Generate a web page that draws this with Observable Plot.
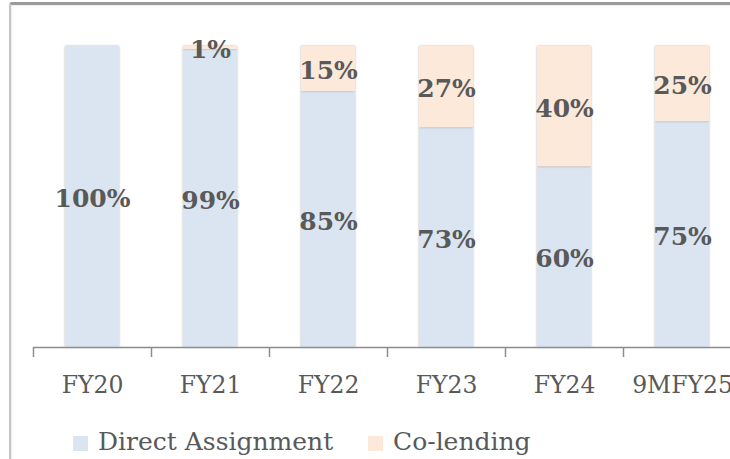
<!DOCTYPE html>
<html>
<head>
<meta charset="utf-8">
<script src="https://cdn.jsdelivr.net/npm/d3@7"></script>
<script src="https://cdn.jsdelivr.net/npm/@observablehq/plot@0.6"></script>
<style>
  html, body { margin: 0; padding: 0; background: #fff; width: 730px; height: 459px; overflow: hidden; }
  #frame { position: absolute; left: 9px; top: 2px; width: 800px; height: 520px;
    border-top: 3px solid #9a9a9a; border-left: 2px solid #c4c4c4; border-top-left-radius: 3px;
    box-shadow: inset 1px 1px 2px rgba(0,0,0,0.08); }
  #chart { position: absolute; left: 0; top: 0; }
  #legend { position: absolute; top: 427px; left: 0; width: 730px; font-family: "DejaVu Serif", serif;
    font-size: 25px; color: #595959; }
  .item { position: absolute; top: 0; display: flex; align-items: center; white-space: nowrap; }
  .sw { width: 15px; height: 15px; margin-right: 10px; margin-top: 3px; }
  .bars rect { filter: drop-shadow(0px 0px 1.2px rgba(0,0,0,0.28)); }
</style>
</head>
<body>
<div id="frame"></div>
<div id="chart"></div>
<div id="legend"></div>
<script>
const categories = ["FY20", "FY21", "FY22", "FY23", "FY24", "9MFY25"];
const directAssignment = [100, 99, 85, 73, 60, 75];
const coLending = [0, 1, 15, 27, 40, 25];
const seriesNames = ["Direct Assignment", "Co-lending"];
const seriesColors = ["#dbe5f1", "#fde9d9"];

const rows = [];
categories.forEach((c, i) => {
  rows.push({cat: c, series: seriesNames[0], value: directAssignment[i]});
  rows.push({cat: c, series: seriesNames[1], value: coLending[i]});
});

const step = (741 - 33) / 6;

const plot = Plot.plot({
  width: 730,
  height: 410,
  marginLeft: 33,
  marginRight: 0,
  marginTop: 46,
  marginBottom: 63,
  style: {fontFamily: "DejaVu Serif, serif", background: "transparent", overflow: "visible"},
  x: {domain: categories, range: [33, 741], paddingInner: 0.54, paddingOuter: 0.27, align: 0.5, label: null},
  y: {domain: [0, 100], axis: null},
  color: {domain: seriesNames, range: seriesColors},
  marks: [
    Plot.barY(rows, Plot.stackY({x: "cat", y: "value", fill: "series", z: "series", order: seriesNames, className: "bars"})),
    Plot.ruleY([0], {stroke: "#8c8c8c", strokeWidth: 1.5}),
    Plot.ruleX(categories, {x: d => d, y1: 0, y2: 0, dx: -step / 2, insetBottom: -10, stroke: "#8c8c8c", strokeWidth: 1.5}),
    Plot.ruleX(categories.slice(-1), {x: d => d, y1: 0, y2: 0, dx: step / 2, insetBottom: -10, stroke: "#8c8c8c", strokeWidth: 1.5}),
    Plot.text(rows.filter(d => d.value > 0), Plot.stackY({x: "cat", y: "value", z: "series", order: seriesNames,
      text: d => d.value + "%", fill: "#595959", fontWeight: "bold", fontSize: 25, dy: 2})),
    Plot.axisX({tickSize: 0, tickPadding: 29, fontSize: 23.5, color: "#595959", label: null})
  ]
});
document.getElementById("chart").appendChild(plot);

const legend = document.getElementById("legend");
const legendLefts = [73, 368];
seriesNames.forEach((s, i) => {
  const item = document.createElement("div");
  item.className = "item";
  item.style.left = legendLefts[i] + "px";
  const sw = document.createElement("span");
  sw.className = "sw";
  sw.style.background = seriesColors[i];
  const t = document.createElement("span");
  t.textContent = s;
  item.appendChild(sw);
  item.appendChild(t);
  legend.appendChild(item);
});
</script>
</body>
</html>
